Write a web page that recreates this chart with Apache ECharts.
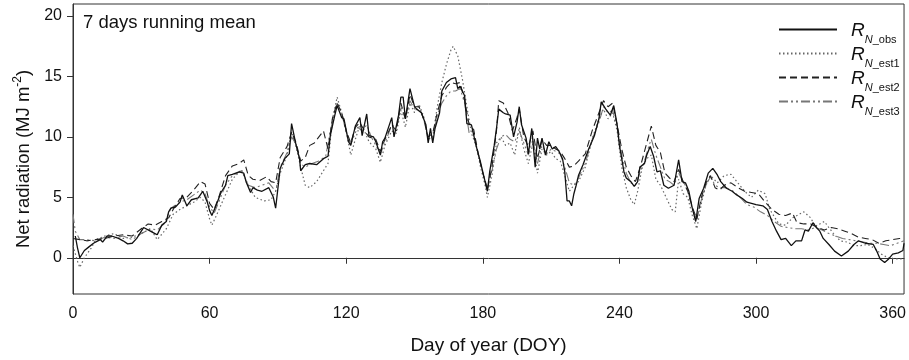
<!DOCTYPE html>
<html>
<head>
<meta charset="utf-8">
<script src="https://cdn.jsdelivr.net/npm/echarts@6/dist/echarts.min.js"></script>
<style>html,body{margin:0;padding:0;background:#fff}#c{width:909px;height:360px}</style>
</head>
<body>
<div id="c"></div>
<script>
const xTicks = [0, 60, 120, 180, 240, 300, 360];
const yTicks = [0, 5, 10, 15, 20];
const seriesNames = ['obs', 'est1', 'est2', 'est3'];

const obsDays = [1,2,3,5,7,9,12,13,15,17,20,22,24,26,28,30,31,34,36,37,39,41,42,43,45,47,48,50,52,55,57,59,60,61,63,65,67,68,70,73,75,76,78,79,81,83,86,88,89,91,93,95,96,98,99.5,100,102,104,107,110,112,113,115,116,118,119,121,122,124,126,127,129,130,132,133,135,136,137,140,141,143,144,145,146,148,150,151,153,155,156,157,158,159,161,162,164,166,168,169,170,172,173,175,177,179,181,182,183,185,186,187,189,190,192,193.5,195,196,197,199,200,201.5,203,204,205,206,207.5,209,210.5,212,213.5,215,216,217,218,219,220,221,222,224,226.5,229,231,232,234,236,237.5,239,240,241,242,243,245,246.5,248,249,251,252,253.5,255,256.5,258,259.5,261.5,264,266,267.5,269,270.5,272,273.5,275,277,279,281,283,284.5,287,289.5,291.5,294,296,298,300,303,305,307,309,311,313,315.5,317.5,320,321.5,323,325,326.5,328,329.5,332,334.5,337.5,340.5,343,345,348,351.5,353,354.5,356.5,358,360,362.5,364.5,365];
const obsVals = [1.8,0.8,0.0,0.6,0.9,1.2,1.5,1.3,1.8,1.8,1.6,1.4,1.15,1.2,1.6,2.2,2.5,2.2,2.0,1.9,2.7,3.0,3.8,4.1,4.2,4.6,5.2,4.3,4.8,4.95,5.5,4.6,3.9,3.5,4.4,5.4,6.0,6.8,6.9,7.1,7.0,6.3,5.4,5.8,5.6,5.5,5.8,5.0,4.1,7.4,8.2,8.6,11.1,9.3,8.2,7.2,7.7,7.8,7.7,8.2,8.4,10.1,11.8,12.6,11.6,11.5,9.6,9.3,10.9,11.6,10.1,11.9,10.1,10.0,9.6,8.5,9.6,9.9,11.6,10.0,11.8,13.3,13.3,11.5,14.0,12.5,12.3,12.0,11.0,9.5,10.7,9.5,10.7,12.0,13.8,14.5,14.8,14.9,14.0,14.2,13.4,11.1,11.0,9.3,7.9,6.3,5.5,7.1,9.3,10.7,12.3,12.0,11.9,11.8,10.0,11.2,12.5,11.0,9.9,8.6,10.7,7.5,9.9,9.0,9.9,8.5,9.6,9.0,9.2,8.8,8.2,7.1,4.7,4.7,4.3,5.3,6.0,6.8,7.7,9.0,10.1,11.5,12.9,12.3,11.8,12.6,11.0,9.3,8.2,7.1,6.6,6.3,5.9,6.3,7.5,7.8,8.5,9.2,8.4,7.1,7.2,6.0,5.75,6.0,8.1,6.3,6.2,5.5,4.1,3.0,4.9,5.75,7.0,7.4,6.85,6.3,5.75,5.5,5.2,4.9,4.6,4.5,4.4,4.3,4.0,3.0,2.2,1.5,1.6,1.0,1.4,1.4,2.3,2.2,2.9,2.5,2.2,1.6,1.1,0.55,0.15,0.55,1.1,1.4,1.2,1.1,0.55,-0.1,-0.4,-0.15,0.3,0.4,0.6,1.2];

const est1Days = [0,2,3,5,8,10,14,18,22,26,30,34,37,41,44,47,50,53,56,58,60,61,63,66,70,74,77,80,84,87,89,91,94,96,98,100,102,104,107,110,112,114,116,118,120,122,124,126,128,130,133,135,137,140,142,144,146,148,150,152,154,156,158,160,162,164,166,167,169,171,173,175,177,179,181,182,184,186,188,190,192,194,196,198,200,202,204,206,208,210,212,214,216,218,220,222,225,228,231,233,235,237,239,241,243,245,246.5,248,250,252,254,256,258,261,263,264.5,266,268,270,272,274,276,278,280,283,286,289,292,295,298,301,304,306,308,310,313,316,319,321,324,326,328,330,332,334,337,340,343,346,349,352,355,358,361,365];
const est1Vals = [1.0,-0.3,-0.8,0.0,0.8,1.5,1.8,2.0,1.6,1.7,2.0,2.4,1.5,2.4,3.6,4.0,4.3,4.6,5.0,4.6,3.2,2.7,3.5,4.8,6.5,7.3,6.0,5.0,4.7,4.8,5.5,7.0,8.5,10.4,9.2,7.5,6.0,5.8,6.3,7.2,7.8,11.5,13.3,12.0,10.5,8.5,9.8,11.0,10.5,9.6,9.0,7.9,9.3,10.5,10.3,12.2,10.8,12.8,12.0,12.7,11.7,9.8,10.0,12.5,14.5,16.0,17.2,17.5,16.7,14.8,12.5,10.3,9.3,7.5,6.0,5.0,6.8,9.5,10.0,9.3,9.5,8.5,10.8,9.0,7.8,9.5,7.0,9.0,8.5,8.8,8.2,8.0,6.8,5.5,6.0,6.3,7.5,9.8,11.5,12.3,11.5,12.0,10.5,7.5,5.8,4.8,4.4,5.5,7.5,8.2,8.5,6.5,6.0,4.8,4.0,3.8,6.5,5.3,5.0,3.5,2.4,4.5,6.0,6.8,6.2,6.8,6.9,6.2,5.5,5.0,5.6,5.3,4.0,3.4,2.8,2.7,3.3,3.6,3.8,3.3,2.6,2.8,3.0,2.5,2.0,1.4,1.3,1.0,1.0,1.1,0.8,0.3,0.0,-0.1,-0.1];

const est2Days = [0,3,6,10,14,18,22,26,30,33,36,39,42,44,47,50,53,56,58,60,62,64,67,70,73,75,77,79,82,85,87,89,91,94,96,98,100,102,104,106,108,110,112,114,116,118,120,122,124,126,128,130,133,135,137,140,142,144,146,148,150,152,154,156,158,160,162,164,166,168,170,172,174,176,178,180,182,184,186,187,189,191,193,195,196,198,200,202,204,206,208,210,212,214,216,218,220,222,225,228,231,233,235,237,239,241,243,245,247,249,251,253,254,256,258,260,262,264,266,268,270,272,274,276,278,280,282,284,286,289,292,295,298,301,304,307,310,313,316,318,321,324,327,330,333,336,339,342,345,348,351,354,357,360,363,365];
const est2Vals = [1.6,1.5,1.4,1.5,1.6,1.8,1.9,1.8,2.4,2.8,2.7,3.0,3.3,4.0,4.9,5.0,5.6,6.3,6.1,4.5,4.0,5.0,6.8,7.6,7.8,8.1,6.8,6.5,6.4,6.7,6.3,6.2,8.3,9.2,10.4,9.5,8.0,8.3,9.3,9.5,10.0,10.5,9.0,11.6,12.8,12.0,10.5,9.5,10.8,11.2,10.5,10.0,9.8,8.8,9.8,11.0,10.5,12.8,11.5,13.5,12.5,12.5,11.5,10.0,10.3,12.0,13.4,14.1,14.5,14.4,14.5,13.0,11.0,10.6,8.6,7.0,5.6,7.5,10.5,13.0,12.8,12.0,10.5,11.6,12.3,10.0,9.2,10.5,8.2,9.8,9.3,9.3,9.0,8.8,8.2,7.5,7.6,8.0,8.6,10.5,12.0,13.0,12.5,12.8,11.0,9.0,7.5,6.8,6.3,7.4,8.8,10.2,10.9,9.3,8.7,7.0,6.6,6.3,7.3,6.3,5.5,4.2,3.2,5.0,6.2,6.8,5.8,5.6,6.0,6.2,5.8,5.5,5.4,5.3,4.6,4.0,3.6,3.5,3.7,2.9,2.8,2.8,2.5,2.3,2.5,2.4,2.2,2.0,1.7,1.6,1.5,1.2,1.4,1.5,1.6,1.5];

const est3Days = [0,1,3,6,10,14,18,22,26,30,34,37,40,43,47,50,53,56,58,60,62,64,67,70,74,77,80,83,86,89,91,94,96,98,100,102,105,108,111,113,116,118,120,122,125,127,129,131,133,135,137,140,142,144,146,148,150,152,154,156,158,160,162,164,166,168,170,172,174,176,178,180,182,184,186,188,190,192,194,196,198,200,202,204,206,208,210,212,214,216,218,220,222,225,228,231,233,235,237,239,241,243,245,247,249,251,253,254,256,258,260,262,264,266,268,270,272,274,276,278,280,282,284,287,290,293,296,299,302,305,308,311,314,317,320,323,326,329,332,335,338,341,344,347,350,353,356,359,362,365];
const est3Vals = [3.6,2.2,1.5,1.5,1.4,1.7,1.6,1.8,1.5,2.0,2.4,2.3,2.8,4.1,4.6,4.8,5.2,5.6,5.3,4.2,3.7,4.6,6.0,6.8,7.2,6.0,5.8,6.0,6.2,5.5,7.5,8.7,10.0,9.4,7.8,7.5,7.8,8.0,8.4,10.5,12.8,12.0,10.3,9.4,10.8,10.5,11.0,10.0,9.3,8.6,9.5,11.0,10.8,12.5,11.5,13.0,12.3,12.5,11.5,9.8,10.0,11.8,12.8,13.4,13.8,13.8,14.0,12.8,10.3,10.5,8.5,7.0,5.8,7.2,9.0,10.0,10.2,9.8,9.6,10.5,9.5,8.5,9.8,7.8,9.3,8.6,9.0,8.8,8.6,7.5,6.2,6.0,6.6,7.8,9.8,11.2,12.5,12.0,12.2,10.8,8.5,7.0,6.2,6.0,7.0,8.0,9.3,9.8,8.5,7.5,6.5,6.3,6.0,7.0,6.3,5.6,4.0,3.2,4.8,6.0,6.7,6.0,5.8,5.8,5.5,5.0,4.4,4.2,3.8,3.5,3.0,2.6,2.5,2.4,2.4,2.3,2.5,2.3,2.0,1.8,1.6,1.5,1.4,1.3,1.2,1.2,1.1,1.0,1.2,1.4];

function pairs(d, v) { return d.map((x, i) => [x, v[i]]); }

const chart = echarts.init(document.getElementById('c'));
const FONT = 'Liberation Sans, Arial, sans-serif';
const labelFmt = {
  obs: '{r|R}{s|N}{t|_obs}',
  est1: '{r|R}{s|N}{t|_est1}',
  est2: '{r|R}{s|N}{t|_est2}',
  est3: '{r|R}{s|N}{t|_est3}'
};
chart.setOption({
  animation: false,
  backgroundColor: '#fff',
  textStyle: { fontFamily: FONT },
  title: {
    text: '7 days running mean', left: 78, top: 8,
    textStyle: { fontSize: 18.5, fontWeight: 'normal', color: '#111', fontFamily: FONT }
  },
  grid: { left: 73, right: 3, top: 4, bottom: 64, show: true, borderColor: '#333', borderWidth: 1 },
  legend: {
    orient: 'vertical', left: 773, top: 16, itemWidth: 58, itemHeight: 12, itemGap: 0,
    data: seriesNames,
    formatter: n => labelFmt[n],
    itemStyle: { opacity: 0 },
    textStyle: {
      rich: {
        r: { fontSize: 19, fontStyle: 'italic', color: '#111', lineHeight: 21, verticalAlign: 'bottom', padding: [0, 0, 0, 9], fontFamily: FONT },
        s: { fontSize: 11, fontStyle: 'italic', color: '#111', lineHeight: 21, verticalAlign: 'bottom', padding: [0, 0, -5, 0], fontFamily: FONT },
        t: { fontSize: 11, color: '#111', lineHeight: 21, verticalAlign: 'bottom', padding: [0, 0, -5, 0], fontFamily: FONT }
      }
    }
  },
  xAxis: {
    type: 'value', min: 0, max: 365,
    name: 'Day of year (DOY)', nameLocation: 'middle', nameGap: 42,
    nameTextStyle: { fontSize: 19, color: '#111', fontFamily: FONT },
    axisLine: { lineStyle: { color: '#333', width: 1 } },
    axisTick: { show: true, inside: false, length: 6, customValues: xTicks, lineStyle: { color: '#333' } },
    axisLabel: { customValues: xTicks, fontSize: 16, color: '#111', margin: 12, fontFamily: FONT },
    splitLine: { show: false }
  },
  yAxis: {
    type: 'value', min: -3, max: 21,
    name: '{a|Net radiation (MJ m}{b|-2}{a|)}', nameLocation: 'middle', nameGap: 29,
    nameTextStyle: {
      color: '#111',
      padding: [0, 20, 0, 0],
      rich: {
        a: { fontSize: 18.5, color: '#111', fontFamily: FONT, lineHeight: 22, verticalAlign: 'bottom' },
        b: { fontSize: 12, color: '#111', fontFamily: FONT, lineHeight: 22, verticalAlign: 'top' }
      }
    },
    axisLine: { show: true, lineStyle: { color: '#333', width: 1 } },
    axisTick: { show: true, inside: false, length: 6, customValues: yTicks, lineStyle: { color: '#333' } },
    axisLabel: { customValues: yTicks, fontSize: 16, color: '#111', margin: 11, fontFamily: FONT },
    splitLine: { show: false }
  },
  series: [
    { name: 'obs', type: 'line', data: pairs(obsDays, obsVals), symbol: 'none', z: 5,
      lineStyle: { color: '#111', width: 1.3, type: 'solid' }, itemStyle: { color: '#111' } },
    { name: 'est1', type: 'line', data: pairs(est1Days, est1Vals), symbol: 'none', z: 3,
      lineStyle: { color: '#666', width: 1.2, type: [1.5, 2.5] }, itemStyle: { color: '#666' } },
    { name: 'est2', type: 'line', data: pairs(est2Days, est2Vals), symbol: 'none', z: 4,
      lineStyle: { color: '#222', width: 1.1, type: [7, 4] }, itemStyle: { color: '#222' } },
    { name: 'est3', type: 'line', data: pairs(est3Days, est3Vals), symbol: 'none', z: 2,
      lineStyle: { color: '#777', width: 1.1, type: [9, 3, 2, 3, 2, 3] }, itemStyle: { color: '#777' } }
  ]
});
</script>
</body>
</html>
